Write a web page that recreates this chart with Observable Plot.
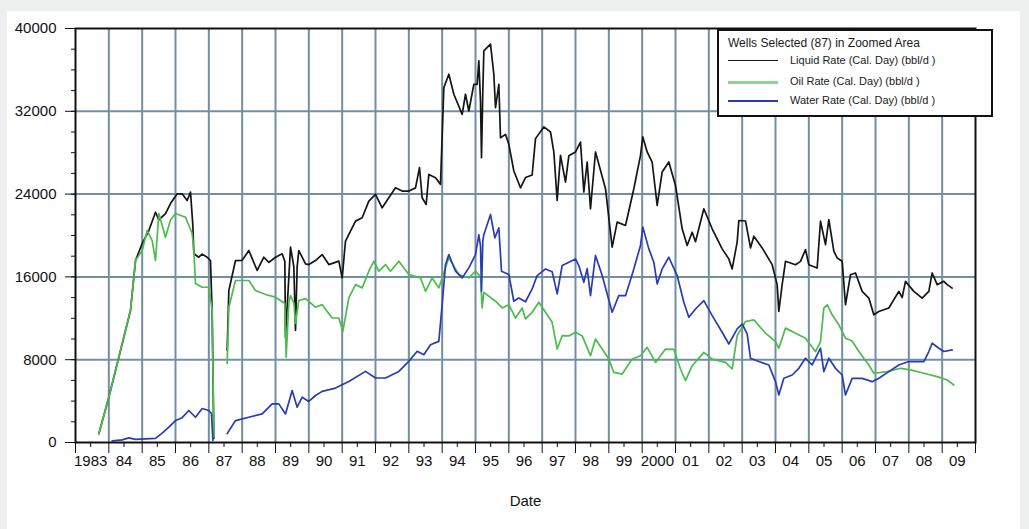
<!DOCTYPE html>
<html>
<head>
<meta charset="utf-8">
<script src="https://cdn.jsdelivr.net/npm/d3@7"></script>
<script src="https://cdn.jsdelivr.net/npm/@observablehq/plot@0.6"></script>
<style>
  html, body { margin: 0; padding: 0; background: #eef0f0; }
  #wrap { position: relative; width: 1029px; height: 529px; overflow: hidden; }
  #panel { position: absolute; left: 7px; top: 11px; width: 1013px; height: 518px; background: #ffffff; }
  #chart { position: absolute; left: 0; top: 0; }
  #legend { position: absolute; left: 717px; top: 29px; width: 272px; height: 84px; border: 2px solid #111;
            background: #fff; font-family: "Liberation Sans", Arial, sans-serif; font-size: 11px; color: #1a1a1a; }
  #legend .title { position: absolute; left: 9px; top: 5px; white-space: nowrap; font-size: 12px; }
  #legend .row { position: absolute; left: 9px; height: 14px; white-space: nowrap; }
  #legend .swatch { position: absolute; left: 0; top: 6px; width: 50px; }
  #legend .lab { position: absolute; left: 62px; top: 0; }
</style>
</head>
<body>
<div id="wrap">
  <div id="panel"></div>
  <div id="chart"></div>
  <div id="legend"></div>
</div>
<script>
// ---------- data (decimal year, bbl/d) ----------
const liquidYear = [1983.7,1984.0,1984.3,1984.5,1984.65,1984.8,1985.0,1985.2,1985.4,1985.5,1985.7,1985.85,1986.05,1986.2,1986.35,1986.45,1986.52,1986.55,1986.7,1986.8,1986.95,1987.05,1987.1,1987.15,1987.35,
  1987.55,1987.6,1987.8,1988.0,1988.2,1988.45,1988.65,1988.8,1989.0,1989.2,1989.28,1989.3,1989.45,1989.55,1989.6,1989.65,1989.7,1989.9,
  1990.0,1990.2,1990.4,1990.6,1990.9,1991.0,1991.1,1991.4,1991.6,1991.8,1992.0,1992.2,1992.4,1992.6,1992.8,1993.0,1993.2,1993.32,1993.4,1993.52,1993.6,1993.8,1993.95,
  1994.05,1994.2,1994.35,1994.6,1994.7,1994.8,1994.95,1995.05,1995.1,1995.15,1995.18,1995.22,1995.25,1995.45,1995.55,1995.6,1995.7,1995.75,1995.9,
  1996.0,1996.15,1996.35,1996.5,1996.7,1996.8,1997.05,1997.25,1997.35,1997.45,1997.55,1997.7,1997.8,1998.0,1998.15,1998.25,1998.35,1998.45,1998.6,1998.9,
  1999.1,1999.25,1999.5,1999.75,1999.95,2000.02,2000.15,2000.3,2000.45,2000.6,2000.8,2001.0,2001.2,2001.35,2001.5,2001.6,2001.85,
  2002.1,2002.4,2002.6,2002.7,2002.85,2002.9,2003.1,2003.25,2003.35,2003.6,2003.9,2004.05,2004.1,2004.2,2004.3,2004.6,2004.75,2004.9,
  2005.0,2005.25,2005.35,2005.5,2005.6,2005.75,2005.85,2006.0,2006.1,2006.25,2006.4,2006.6,2006.8,2006.95,2007.1,2007.4,2007.7,2007.8,2007.9,
  2008.15,2008.4,2008.6,2008.7,2008.85,2009.05,2009.15,2009.3];
const liquidRate = [840,4380,8240,10820,12750,17580,19220,20480,22250,21500,22120,23090,24030,24030,23380,24190,21000,18230,17900,18200,17900,17580,12460,400,null,
  8890,14680,17580,17600,18550,16620,17900,17400,17900,18230,17500,10170,18870,17000,10820,17000,18550,17260,
  17190,17580,18160,17190,17520,15900,19450,21390,21710,23320,23970,22680,23650,24610,24290,24290,24600,26550,23650,23000,25900,25580,24940,
  34290,35580,33650,31710,33650,32030,34610,34600,36870,33000,27520,34000,37840,38490,35580,32350,34610,29450,29770,
  28810,26230,24610,25600,25850,29360,30490,30000,28070,23390,27740,25160,27700,28070,29030,24200,27100,22580,28070,24520,
  18870,21290,20970,24520,27740,29520,28070,27100,22900,26130,27100,24840,20650,19030,20320,19400,22580,
  20650,18710,17740,16770,19360,21450,21400,18800,19930,18800,17180,15250,12660,15250,17510,17180,17500,18640,
  17180,16860,21380,19120,21540,18480,17830,17510,13310,16210,16380,14600,13950,12340,12660,12990,14600,14000,15570,
  14600,13950,14600,16380,15250,15570,15250,14920];

const oilYear = [1983.7,1984.0,1984.3,1984.5,1984.65,1984.8,1985.0,1985.15,1985.3,1985.4,1985.5,1985.7,1985.85,1986.0,1986.3,1986.5,1986.55,1986.6,1986.8,1987.0,1987.1,1987.15,1987.35,
  1987.55,1987.6,1987.8,1988.2,1988.4,1988.7,1989.0,1989.28,1989.32,1989.4,1989.45,1989.55,1989.6,1989.7,1989.9,
  1990.2,1990.4,1990.7,1990.9,1991.02,1991.2,1991.4,1991.6,1991.8,1991.95,1992.1,1992.3,1992.45,1992.7,1993.0,1993.35,1993.5,1993.7,1993.9,
  1994.0,1994.2,1994.5,1994.8,1995.0,1995.15,1995.2,1995.25,1995.6,1995.8,1996.0,1996.2,1996.4,1996.5,1996.7,1996.9,
  1997.1,1997.3,1997.45,1997.6,1997.8,1998.0,1998.2,1998.45,1998.6,1998.8,1999.0,1999.15,1999.4,1999.7,1999.95,
  2000.15,2000.4,2000.7,2000.95,2001.15,2001.3,2001.5,2001.85,2002.1,2002.5,2002.7,2002.85,2003.1,2003.35,2003.7,
  2004.0,2004.1,2004.3,2004.6,2004.9,2005.2,2005.35,2005.45,2005.55,2005.7,2005.9,2006.1,2006.3,2006.5,2006.8,2006.95,
  2007.35,2007.75,2008.05,2008.45,2008.85,2009.15,2009.35];
const oilRate = [840,4380,8240,10820,12750,17580,18550,20480,19500,17580,22120,19830,21500,22120,21760,20190,18550,15360,15000,15000,12750,510,null,
  7630,13070,15650,15650,14680,14300,14040,13430,8240,13500,14200,13500,11500,13720,13900,
  13070,13320,12030,12030,10740,13970,15260,14940,16550,17520,16550,17190,16550,17520,16230,15900,14610,15900,14940,
  15900,17840,16230,15900,16550,16000,13000,14500,13650,13000,13320,12030,13000,11940,12580,13550,
  12580,11610,9030,10320,10300,10650,10300,8390,10000,9030,8060,6770,6610,8060,8390,
  9190,7740,9030,9000,7100,5970,7420,8710,8060,7740,7100,10320,11690,11850,10560,
  9750,9110,11050,10560,10080,8790,9750,12980,13310,12340,11370,10080,9800,8790,7490,6690,
  6850,7170,7010,6690,6360,6040,5560];

const waterYear = [1984.1,1984.4,1984.6,1984.8,1985.1,1985.4,1985.6,1985.8,1986.0,1986.2,1986.4,1986.6,1986.8,1987.0,1987.08,1987.12,1987.35,
  1987.55,1987.8,1988.2,1988.6,1988.9,1989.1,1989.3,1989.5,1989.65,1989.8,
  1990.0,1990.2,1990.4,1990.8,1991.2,1991.7,1992.0,1992.3,1992.7,1993.0,1993.25,1993.45,1993.65,1993.9,
  1994.0,1994.1,1994.2,1994.4,1994.6,1994.8,1995.0,1995.1,1995.15,1995.18,1995.22,1995.25,1995.45,1995.58,1995.7,1995.78,
  1996.0,1996.15,1996.3,1996.5,1996.7,1996.85,1997.1,1997.3,1997.45,1997.6,1997.8,1998.0,1998.1,1998.25,1998.35,1998.45,1998.6,1998.8,
  1999.1,1999.3,1999.5,1999.75,1999.95,2000.02,2000.2,2000.35,2000.45,2000.6,2000.8,2001.05,2001.25,2001.4,2001.6,2001.85,
  2002.1,2002.4,2002.6,2002.85,2003.0,2003.15,2003.25,2003.5,2003.8,2004.0,2004.1,2004.25,2004.5,2004.7,2004.9,
  2005.1,2005.35,2005.45,2005.6,2005.8,2006.0,2006.1,2006.3,2006.6,2006.9,2007.1,2007.4,2007.7,2008.0,2008.45,2008.6,2008.7,2008.9,2009.05,2009.3];
const waterRate = [150,250,450,300,350,400,900,1480,2120,2400,3090,2440,3280,3090,2800,200,null,
  860,2120,2440,2760,3730,3730,2760,5020,3410,4380,
  3970,4540,4940,5260,5900,6870,6230,6230,6870,7840,8810,8480,9450,9770,
  13320,17190,18160,16550,15900,16870,18160,20070,19000,14610,19500,20070,22030,19770,20740,16550,
  16230,13650,13970,13600,14840,16130,16770,16500,14360,17100,17420,17740,17100,15480,16800,14190,18070,16130,
  12580,14190,14190,16770,19030,20810,18710,17420,15320,16770,17900,16130,13550,12100,12900,13710,
  12260,10650,9520,10970,11450,10500,8140,7820,7490,5880,4590,6200,6520,7170,8140,
  7490,9110,6850,8140,7170,6520,4590,6200,6200,5880,6200,6850,7490,7820,7820,8790,9590,9110,8790,8950];

// ---------- axes / labels ----------
const yMajor = [0, 8000, 16000, 24000, 32000, 40000];
const yMinor = d3.range(0, 40001, 2000);
const yearBounds = d3.range(1983, 2011);
const yearMid = d3.range(1983.5, 2010, 1);
const yearLabels = ["1983","84","85","86","87","88","89","90","91","92","93","94","95","96","97","98","99","2000","01","02","03","04","05","06","07","08","09"];
const gridYears = d3.range(1984, 2010);
const gridValues = [8000, 16000, 24000, 32000];

const seriesNames = ["Liquid Rate (Cal. Day) (bbl/d )", "Oil Rate (Cal. Day) (bbl/d )", "Water Rate (Cal. Day) (bbl/d )"];
const seriesColors = ["#151515", "#4dbb4d", "#2a3db0"];
const legendTitle = "Wells Selected (87) in Zoomed Area";

const toRows = (xs, ys) => xs.map((x, i) => ({year: x, rate: ys[i]}));
const liquid = toRows(liquidYear, liquidRate);
const oil = toRows(oilYear, oilRate);
const water = toRows(waterYear, waterRate);

const gridColor = "#7290a4";
const FS = 15;

const chart = Plot.plot({
  width: 1029,
  height: 529,
  marginLeft: 75,
  marginRight: 54,
  marginTop: 28,
  marginBottom: 87,
  style: {background: "transparent", fontFamily: "'Liberation Sans', Arial, sans-serif", fontSize: FS + "px", color: "#111"},
  x: {type: "linear", domain: [1983, 2010]},
  y: {domain: [0, 40000]},
  marks: [
    Plot.gridX(gridYears, {stroke: gridColor, strokeWidth: 2, strokeOpacity: 1}),
    Plot.gridY(gridValues, {stroke: gridColor, strokeWidth: 2, strokeOpacity: 1}),
    Plot.line(liquid, {x: "year", y: "rate", stroke: seriesColors[0], strokeWidth: 1.7}),
    Plot.line(oil, {x: "year", y: "rate", stroke: seriesColors[1], strokeWidth: 1.7}),
    Plot.line(water, {x: "year", y: "rate", stroke: seriesColors[2], strokeWidth: 1.7}),
    Plot.frame({stroke: "#111", strokeWidth: 2}),
    Plot.axisY({ticks: yMajor, tickSize: 10, tickPadding: 9, label: null, fontSize: FS, tickFormat: d => String(d)}),
    Plot.axisY({ticks: yMinor, tickSize: 4, label: null, tickFormat: () => ""}),
    Plot.axisX({ticks: yearBounds, tickSize: 11, label: null, tickFormat: () => ""}),
    Plot.axisX({ticks: yearMid, tickSize: 5, tickPadding: 8, label: null, dx: -1.5, fontSize: FS,
                tickFormat: d => yearLabels[Math.round(d - 1983.5)]}),
    Plot.text(["Date"], {frameAnchor: "bottom", dy: 63, fill: "#111", fontSize: FS})
  ]
});
chart.querySelectorAll("text").forEach(el => { el.style.fontSize = FS + "px"; });
document.getElementById("chart").appendChild(chart);

// legend
const leg = document.getElementById("legend");
const t = document.createElement("div");
t.className = "title"; t.textContent = legendTitle; leg.appendChild(t);
const rowTops = [23, 44, 63];
const swW = [1.6, 3, 2];
seriesNames.forEach((name, i) => {
  const r = document.createElement("div");
  r.className = "row"; r.style.top = rowTops[i] + "px";
  const s = document.createElement("div");
  s.className = "swatch";
  s.style.borderTop = swW[i] + "px solid " + (i === 1 ? "#8fd48f" : seriesColors[i]);
  const l = document.createElement("div");
  l.className = "lab"; l.textContent = name;
  r.appendChild(s); r.appendChild(l); leg.appendChild(r);
});
</script>
</body>
</html>
